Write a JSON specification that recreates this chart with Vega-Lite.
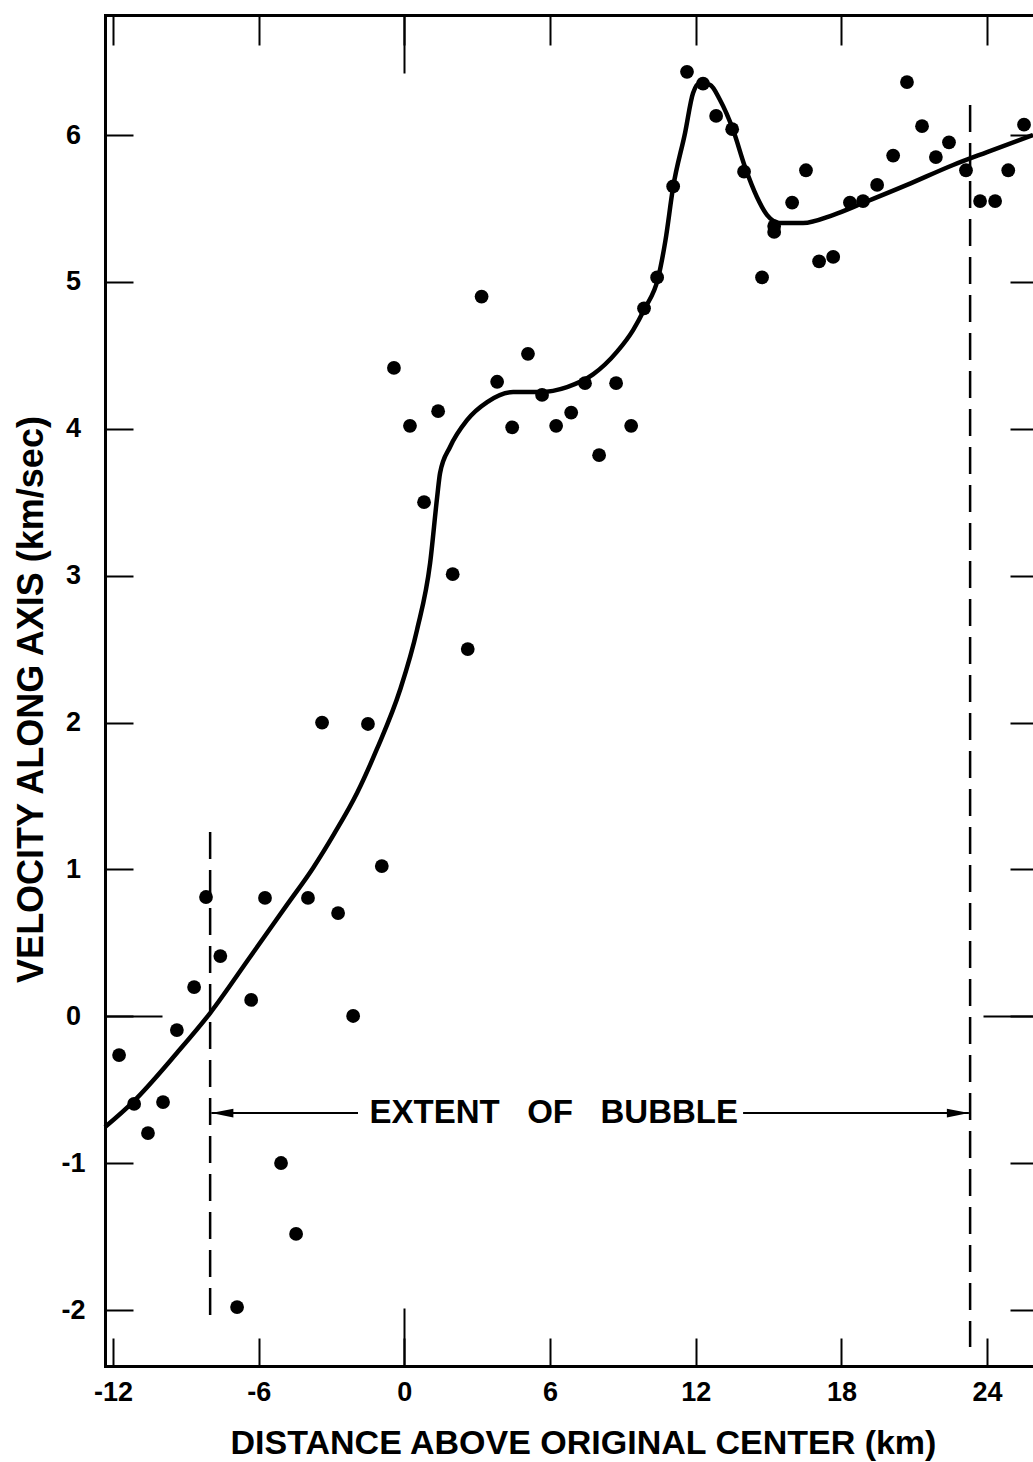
{
  "$schema": "https://vega.github.io/schema/vega-lite/v6.json",
  "width": 928,
  "height": 1351,
  "autosize": {"type": "none"},
  "padding": {"left": 105, "top": 15, "right": 0, "bottom": 96},
  "background": "white",
  "config": {"view": {"stroke": null}},
  "datasets": {
    "points": [
      {"x": -11.75, "y": -0.264}, {"x": -11.13, "y": -0.597}, {"x": -10.56, "y": -0.795}, {"x": -9.94, "y": -0.584},
      {"x": -9.37, "y": -0.094}, {"x": -8.66, "y": 0.199}, {"x": -8.17, "y": 0.812}, {"x": -7.58, "y": 0.41},
      {"x": -6.31, "y": 0.111}, {"x": -5.74, "y": 0.806}, {"x": -6.89, "y": -1.98}, {"x": -5.08, "y": -0.999},
      {"x": -4.46, "y": -1.482}, {"x": -3.97, "y": 0.806}, {"x": -3.39, "y": 2.0}, {"x": -2.73, "y": 0.703},
      {"x": -2.11, "y": 0.002}, {"x": -1.5, "y": 1.99}, {"x": -0.93, "y": 1.023}, {"x": -0.43, "y": 4.414},
      {"x": 0.23, "y": 4.02}, {"x": 0.81, "y": 3.5}, {"x": 1.39, "y": 4.12}, {"x": 1.99, "y": 3.01},
      {"x": 2.61, "y": 2.5}, {"x": 3.18, "y": 4.9}, {"x": 3.82, "y": 4.32}, {"x": 4.44, "y": 4.01},
      {"x": 5.09, "y": 4.51}, {"x": 5.67, "y": 4.23}, {"x": 6.25, "y": 4.02}, {"x": 6.87, "y": 4.11},
      {"x": 7.44, "y": 4.31}, {"x": 8.02, "y": 3.82}, {"x": 8.72, "y": 4.31}, {"x": 9.34, "y": 4.02},
      {"x": 9.87, "y": 4.82}, {"x": 10.41, "y": 5.03}, {"x": 11.07, "y": 5.65}, {"x": 11.64, "y": 6.43},
      {"x": 12.3, "y": 6.35}, {"x": 12.84, "y": 6.13}, {"x": 13.5, "y": 6.04}, {"x": 13.99, "y": 5.75},
      {"x": 14.73, "y": 5.03}, {"x": 15.23, "y": 5.38}, {"x": 15.23, "y": 5.34}, {"x": 15.97, "y": 5.54},
      {"x": 16.54, "y": 5.76}, {"x": 17.08, "y": 5.14}, {"x": 17.66, "y": 5.17}, {"x": 18.35, "y": 5.54},
      {"x": 18.89, "y": 5.55}, {"x": 19.47, "y": 5.66}, {"x": 20.13, "y": 5.86}, {"x": 20.7, "y": 6.36},
      {"x": 21.32, "y": 6.06}, {"x": 21.89, "y": 5.85}, {"x": 22.43, "y": 5.95}, {"x": 23.13, "y": 5.76},
      {"x": 23.71, "y": 5.55}, {"x": 24.33, "y": 5.55}, {"x": 24.87, "y": 5.76}, {"x": 25.52, "y": 6.07}
    ],
    "curve": [
      {"x": -12.33, "y": -0.754}, {"x": -11.18, "y": -0.584}, {"x": -9.37, "y": -0.25}, {"x": -8.0, "y": 0.022},
      {"x": -6.37, "y": 0.4}, {"x": -4.83, "y": 0.76}, {"x": -3.76, "y": 1.01}, {"x": -2.9, "y": 1.24},
      {"x": -1.95, "y": 1.52}, {"x": -1.13, "y": 1.82}, {"x": -0.18, "y": 2.221}, {"x": 0.52, "y": 2.63},
      {"x": 1.06, "y": 3.086}, {"x": 1.35, "y": 3.535}, {"x": 1.47, "y": 3.699}, {"x": 1.88, "y": 3.876},
      {"x": 2.58, "y": 4.059}, {"x": 3.41, "y": 4.182}, {"x": 4.48, "y": 4.25}, {"x": 5.59, "y": 4.25},
      {"x": 6.7, "y": 4.284}, {"x": 7.77, "y": 4.37}, {"x": 8.76, "y": 4.525}, {"x": 9.42, "y": 4.672},
      {"x": 9.91, "y": 4.822}, {"x": 10.45, "y": 5.026}, {"x": 10.75, "y": 5.28}, {"x": 11.07, "y": 5.646},
      {"x": 11.56, "y": 6.014}, {"x": 11.89, "y": 6.286}, {"x": 12.18, "y": 6.354}, {"x": 12.59, "y": 6.341},
      {"x": 13.0, "y": 6.238}, {"x": 13.54, "y": 6.034}, {"x": 14.03, "y": 5.782}, {"x": 14.52, "y": 5.578},
      {"x": 14.94, "y": 5.455}, {"x": 15.47, "y": 5.401}, {"x": 16.42, "y": 5.401}, {"x": 17.65, "y": 5.455},
      {"x": 18.89, "y": 5.537}, {"x": 20.7, "y": 5.66}, {"x": 22.6, "y": 5.796}, {"x": 24.0, "y": 5.884},
      {"x": 25.89, "y": 6.0}
    ],
    "bubble": [
      {"x": -8.0, "y": 1.254, "ye": -2.102},
      {"x": 23.3, "y": 6.204, "ye": -2.252}
    ],
    "shafts": [
      {"x": -7.95, "xe": -1.91, "y": -0.659},
      {"x": 13.95, "xe": 23.25, "y": -0.659}
    ],
    "heads": [
      {"x": -7.95, "y": -0.659, "dir": "left"},
      {"x": 23.25, "y": -0.659, "dir": "right"}
    ],
    "labels": [
      {"x": 6.15, "y": -0.659, "label": "EXTENT\u00a0\u00a0\u00a0OF\u00a0\u00a0\u00a0BUBBLE"}
    ]
  },
  "encoding": {
    "x": {"field": "x", "type": "quantitative", "scale": {"domain": [-12.33, 25.89], "nice": false, "zero": false}, "axis": null},
    "y": {"field": "y", "type": "quantitative", "scale": {"domain": [-2.381, 6.817], "nice": false, "zero": false}, "axis": null}
  },
  "layer": [
    {
      "data": {"name": "bubble"},
      "mark": {"type": "rule", "stroke": "black", "strokeWidth": 2.5, "strokeDash": [27, 11]},
      "encoding": {
        "x": {"field": "x", "type": "quantitative", "scale": {"domain": [-12.33, 25.89], "nice": false, "zero": false},
          "axis": {"orient": "bottom", "values": [0], "labels": false, "title": null, "grid": false, "domain": false,
            "ticks": true, "tickSize": -58, "tickColor": "black", "tickWidth": 2}},
        "y": {"field": "y", "type": "quantitative", "scale": {"domain": [-2.381, 6.817], "nice": false, "zero": false},
          "axis": {"orient": "left", "values": [0], "labels": false, "title": null, "grid": false, "domain": false,
            "ticks": true, "tickSize": -57, "tickColor": "black", "tickWidth": 2}},
        "y2": {"field": "ye"}
      }
    },
    {
      "data": {"name": "shafts"},
      "mark": {"type": "rule", "stroke": "black", "strokeWidth": 2},
      "encoding": {
        "x": {"field": "x", "type": "quantitative", "scale": {"domain": [-12.33, 25.89], "nice": false, "zero": false},
          "axis": {"orient": "top", "values": [0], "labels": false, "title": null, "grid": false, "domain": false,
            "ticks": true, "tickSize": -58, "tickColor": "black", "tickWidth": 2}},
        "y": {"field": "y", "type": "quantitative", "scale": {"domain": [-2.381, 6.817], "nice": false, "zero": false},
          "axis": {"orient": "right", "values": [0], "labels": false, "title": null, "grid": false, "domain": false,
            "ticks": true, "tickSize": -50, "tickColor": "black", "tickWidth": 2}},
        "x2": {"field": "xe"}
      }
    },
    {
      "data": {"name": "heads"},
      "mark": {"type": "point", "filled": true, "color": "black", "size": 484, "opacity": 1},
      "encoding": {
        "shape": {"field": "dir", "type": "nominal", "scale": {"domain": ["left", "right"], "range": ["M0,0L2,-0.4L2,0.4Z", "M0,0L-2,-0.4L-2,0.4Z"]}, "legend": null}
      }
    },
    {
      "data": {"name": "labels"},
      "mark": {"type": "text", "font": "Liberation Sans", "fontSize": 33, "fontWeight": "bold", "align": "center", "baseline": "middle", "color": "black"},
      "encoding": {"text": {"field": "label"}}
    },
    {
      "data": {"name": "curve"},
      "mark": {"type": "line", "stroke": "black", "strokeWidth": 4.5, "interpolate": "monotone"},
      "encoding": {
        "x": {"field": "x", "type": "quantitative", "scale": {"domain": [-12.33, 25.89], "nice": false, "zero": false},
          "axis": {"orient": "top", "values": [-12, -6, 0, 6, 12, 18, 24], "labels": false, "title": null, "grid": false,
            "domain": true, "domainColor": "black", "domainWidth": 3, "domainCap": "square",
            "ticks": true, "tickSize": -30, "tickColor": "black", "tickWidth": 2}},
        "y": {"field": "y", "type": "quantitative", "scale": {"domain": [-2.381, 6.817], "nice": false, "zero": false},
          "axis": {"orient": "right", "values": [-2, -1, 0, 1, 2, 3, 4, 5, 6], "labels": false, "title": null, "grid": false,
            "domain": false, "ticks": true, "tickSize": -23, "tickColor": "black", "tickWidth": 2}}
      }
    },
    {
      "data": {"name": "points"},
      "mark": {"type": "circle", "color": "black", "size": 190, "opacity": 1},
      "encoding": {
        "x": {"field": "x", "type": "quantitative", "scale": {"domain": [-12.33, 25.89], "nice": false, "zero": false},
          "axis": {"orient": "bottom", "values": [-12, -6, 0, 6, 12, 18, 24], "grid": false,
            "domain": true, "domainColor": "black", "domainWidth": 3, "domainCap": "square",
            "ticks": true, "tickSize": -28, "tickColor": "black", "tickWidth": 2,
            "labelPadding": 41, "labelFont": "Liberation Sans", "labelFontSize": 27, "labelFontWeight": "bold", "labelColor": "black",
            "labelBaseline": "top", "labelAlign": "center", "labelFlush": false, "labelOverlap": false,
            "labelExpr": "datum.value < 0 ? '-' + abs(datum.value) : '' + datum.value",
            "title": "DISTANCE ABOVE ORIGINAL CENTER (km)", "titleFont": "Liberation Sans", "titleFontSize": 34, "titleFontWeight": "bold",
            "titleColor": "black", "titleX": 478, "titleY": 87, "titleAlign": "center", "titleBaseline": "alphabetic"}},
        "y": {"field": "y", "type": "quantitative", "scale": {"domain": [-2.381, 6.817], "nice": false, "zero": false},
          "axis": {"orient": "left", "values": [-2, -1, 0, 1, 2, 3, 4, 5, 6], "grid": false,
            "domain": true, "domainColor": "black", "domainWidth": 3, "domainCap": "square",
            "ticks": true, "tickSize": -28, "tickColor": "black", "tickWidth": 2,
            "labelPadding": 60, "labelFont": "Liberation Sans", "labelFontSize": 27, "labelFontWeight": "bold", "labelColor": "black",
            "labelBaseline": "middle", "labelAlign": "center", "labelFlush": false, "labelOverlap": false,
            "labelExpr": "datum.value < 0 ? '-' + abs(datum.value) : '' + datum.value",
            "title": "VELOCITY ALONG AXIS (km/sec)", "titleFont": "Liberation Sans", "titleFontSize": 36, "titleFontWeight": "bold",
            "titleColor": "black", "titleAngle": -90, "titleX": -63, "titleY": 684, "titleAlign": "center", "titleBaseline": "alphabetic"}}
      }
    }
  ],
  "resolve": {"axis": {"x": "independent", "y": "independent"}}
}
